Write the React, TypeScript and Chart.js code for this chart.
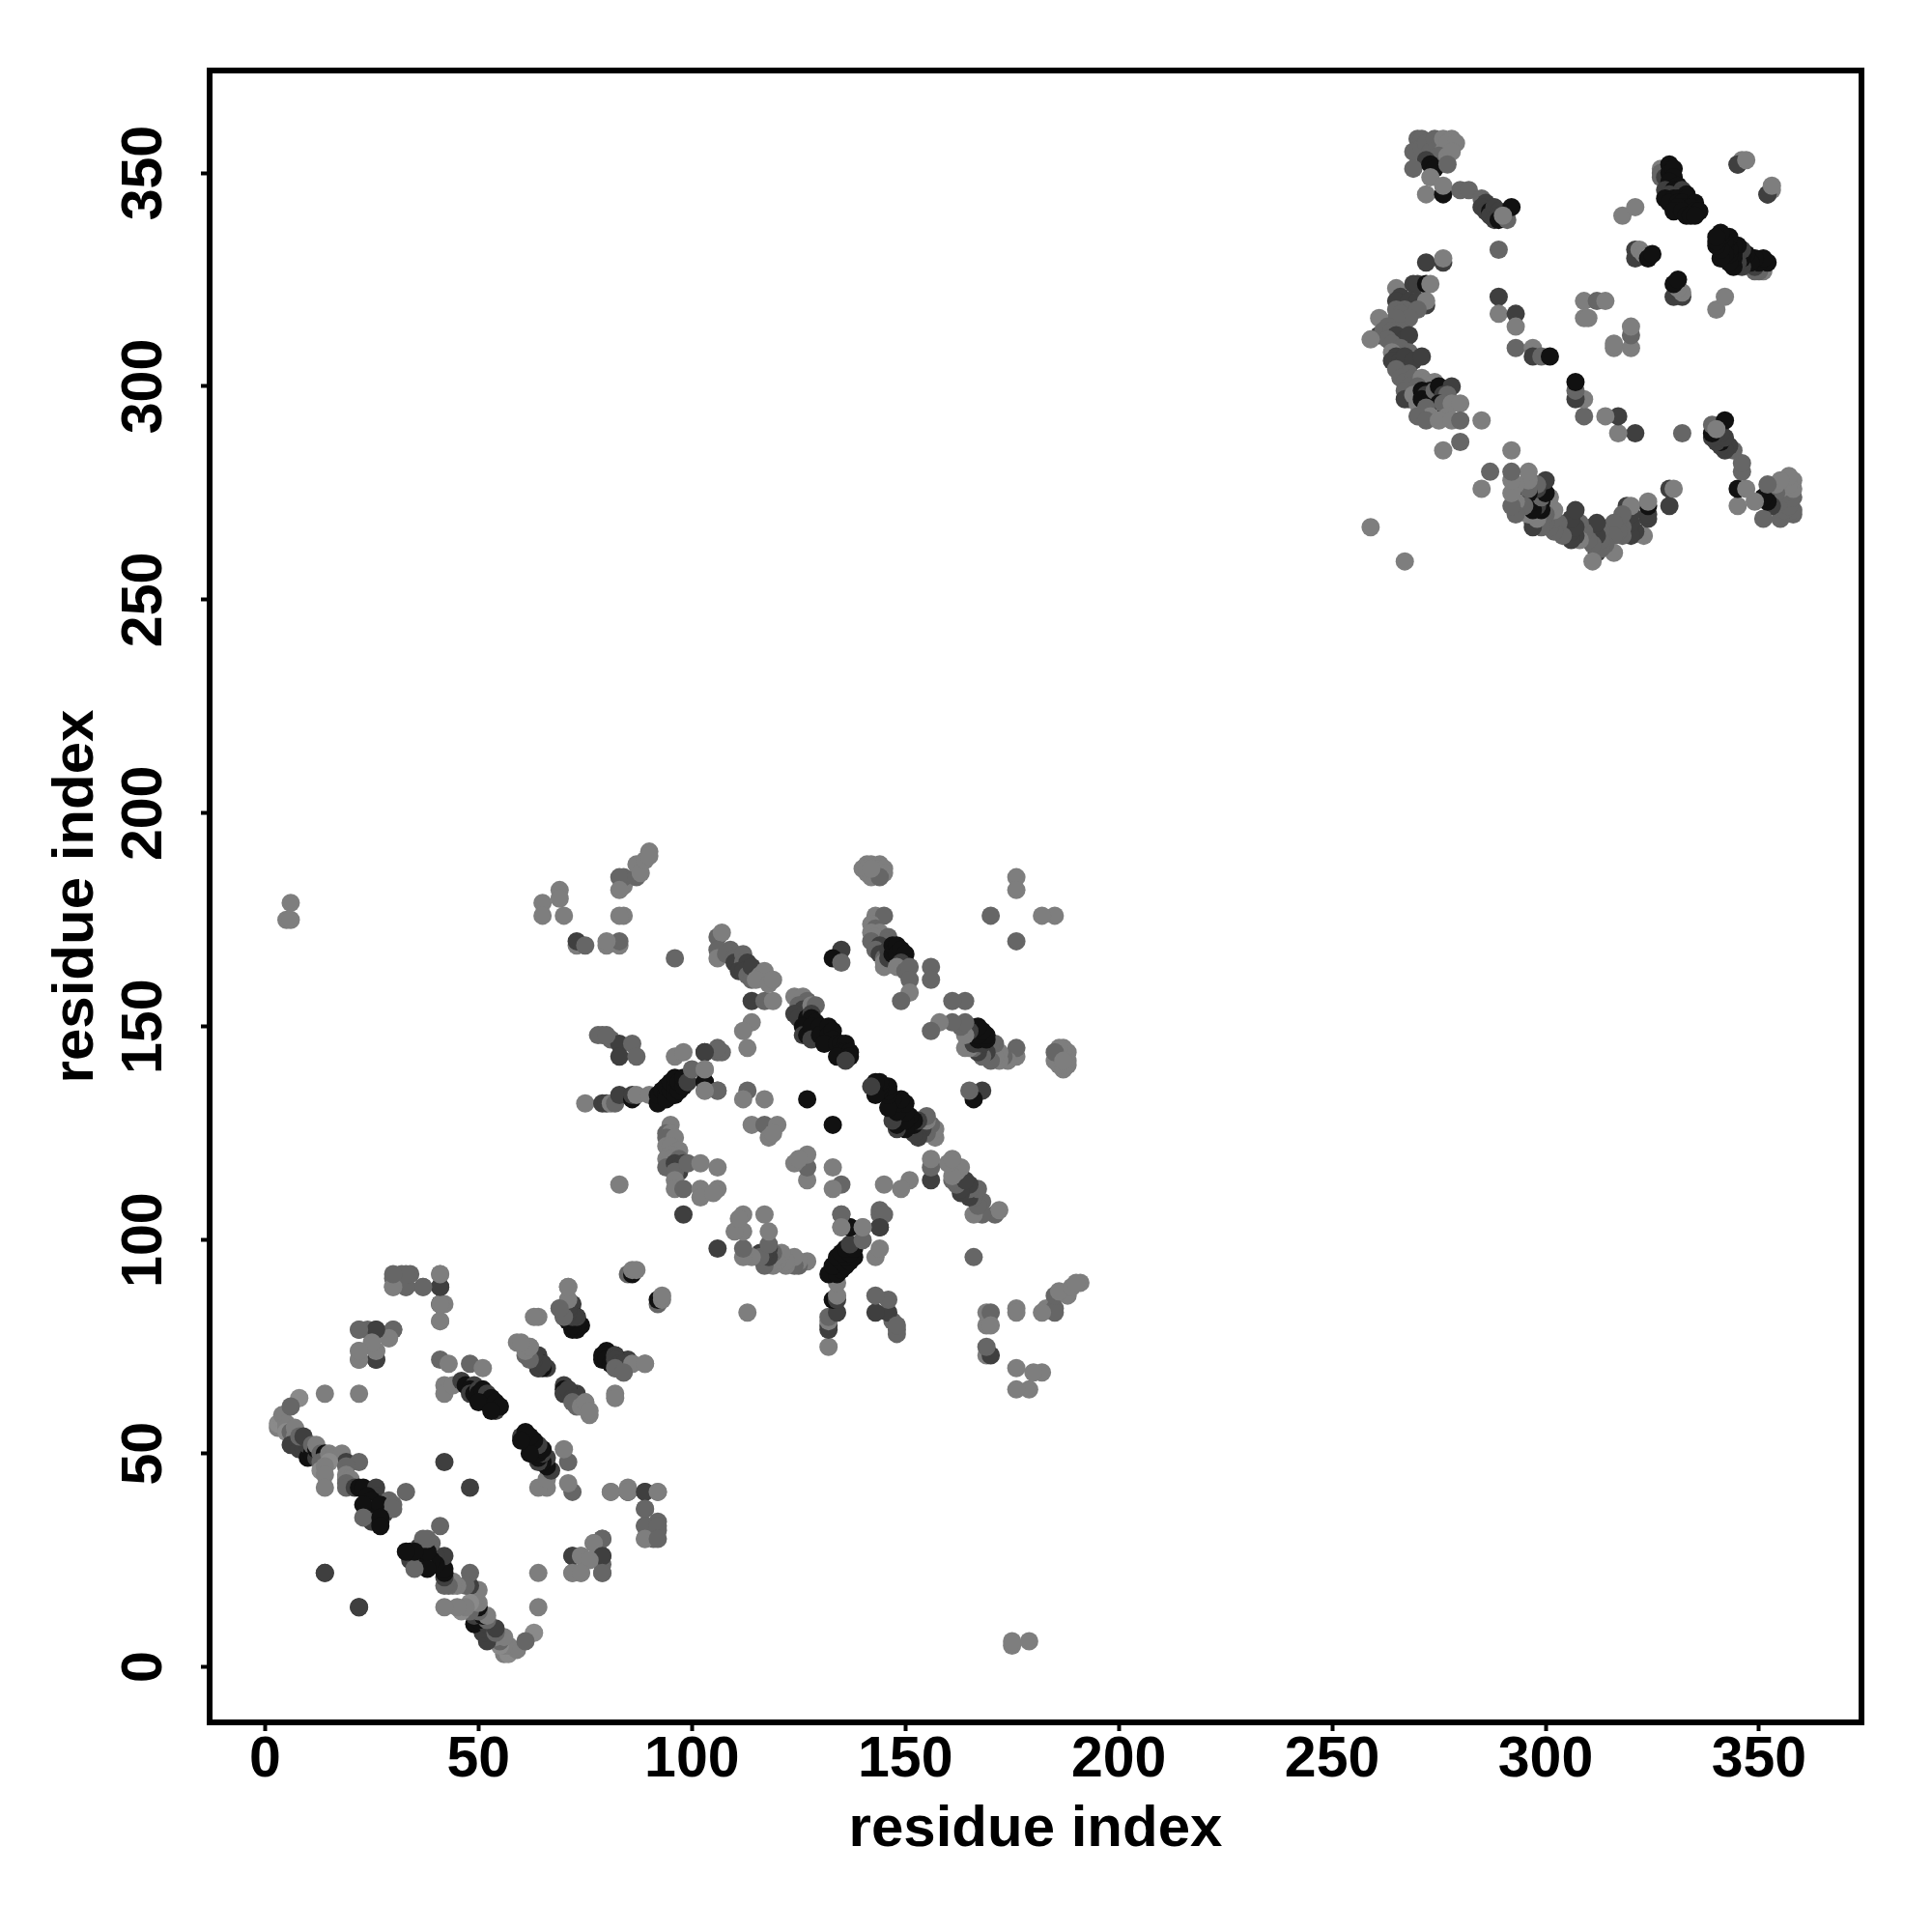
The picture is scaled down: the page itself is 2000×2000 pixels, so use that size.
import React, { useEffect, useRef } from "react";
import { Chart, registerables } from "chart.js";

Chart.register(...registerables);

const tickValues = [0, 50, 100, 150, 200, 250, 300, 350];
const axisTitle = "residue index";

const domainOneContacts = [
  [3,56,1],[3,57,0],[4,58,0],[4,59,1],[5,57,1],[5,56,1],[5,55,0],[6,55,2],[7,54,1],[7,56,1],[8,63,0],[6,61,2],[14,64,1],[22,64,1],
  [6,52,3],[8,51,3],[8,53,3],[9,51,3],[10,49,4],[10,52,3],[11,50,4],[12,49,3],[8,54,2],[9,54,3],[11,52,2],[12,51,4],[12,52,1],[13,50,2],[14,50,4],[13,48,2],[15,50,1],[16,49,1],[18,50,1],[19,48,3],[22,48,2],[15,48,0],[13,46,0],[14,47,1],[14,45,1],[14,42,1],[19,47,2],[19,45,1],[19,44,1],[20,44,1],
  [19,43,2],[19,42,2],[21,42,3],[22,42,4],[23,42,4],[26,42,3],[26,40,3],[24,40,4],[25,39,4],[24,37,3],[26,36,4],[25,34,3],[27,34,4],[28,36,3],[29,39,2],[33,41,2],[23,38,4],[27,38,4],[30,38,2],[30,37,2],[23,35,2],[27,35,4],[27,33,4],[14,22,3],[22,14,3],
  [30,91,2],[32,92,2],[30,89,1],[33,89,2],[37,89,2],[41,92,1],[41,89,3],[41,85,4],[42,85,1],[41,81,1],
  [22,79,2],[24,79,2],[26,79,3],[30,79,2],[29,77,1],[26,74,1],[22,74,1],[22,72,2],[26,72,3],
  [41,72,2],[43,71,1],[48,71,2],[51,70,1],[42,66,1],[42,64,1],[44,66,1],[46,67,3],[47,66,4],[49,66,3],[48,65,4],[48,64,3],[49,64,4],[50,65,3],[50,64,4],[51,65,4],[52,64,3],[52,62,4],[53,63,4],[50,62,4],[54,62,4],[54,60,3],[55,61,4],[53,60,4],
  [42,48,3],[64,82,1],[71,89,1],[71,86,1],[69,84,1],[72,85,3],[70,83,3],[72,83,3],[70,82,3],[73,82,4],[71,81,4],[72,81,4],[73,80,4],[74,80,4],[72,79,4],
  [85,92,2],[86,92,4],[86,93,1],[87,93,1],[59,76,1],[62,75,1],[61,73,2],[62,73,3],[64,73,3],[63,72,3],[64,71,4],[65,71,4],[66,70,3],[64,70,4],
  [79,73,4],[80,73,4],[80,72,4],[81,71,4],[82,73,3],[82,72,3],[83,71,3],[83,70,3],[84,71,3],[86,71,1],[89,71,1],[82,70,2],[84,69,2],[82,63,1],
  [71,64,4],[70,65,4],[70,64,3],[71,65,3],[72,63,3],[73,63,3],[72,62,2],[74,61,1],[75,62,1],[76,60,1],
  [81,41,1],[85,41,1],[89,41,3],[92,41,1],[89,37,2],[89,33,2],[92,34,2],[92,33,2],[89,30,1],[92,30,2],
  [79,30,2],[77,29,1],[79,26,3],[72,26,3],[74,26,1],[76,25,1],[72,22,1],[74,22,1],[79,22,2],
];

const domainTwoContacts = [
  [79,148,2],[81,147,2],[83,146,3],[86,146,2],[83,143,3],[87,143,2],[78,148,2],[80,148,2],
  [75,132,1],[79,132,3],[80,132,3],[81,132,1],[82,132,2],[83,134,3],[86,133,4],[86,134,3],[87,134,1],[90,134,1],
  [92,132,4],[92,134,4],[93,135,4],[94,134,4],[94,133,4],[94,136,4],[95,135,4],[95,137,4],[96,134,4],[96,136,4],[96,138,4],[97,135,4],[97,137,4],[98,136,4],[98,138,4],[99,137,3],[100,140,2],[103,144,4],[103,140,1],[103,137,4],[106,144,2],[107,144,2],[106,135,2],[103,135,1],[96,143,1],[98,144,1],
  [95,127,1],[94,125,2],[95,125,1],[94,124,2],[96,124,1],[94,122,1],[95,122,1],[97,121,1],[95,120,1],[94,119,1],[95,119,1],[97,119,2],[94,117,2],[96,118,3],[98,118,3],[97,117,3],[97,116,3],[96,116,2],[99,118,2],[96,114,1],[102,118,1],[106,117,1],[96,112,1],[98,112,2],[102,112,1],[102,110,1],[106,112,1],[105,111,1],[98,106,3],[83,113,1],
  [106,171,2],[107,172,1],[106,168,2],[106,166,1],[109,168,2],[108,167,2],[110,166,2],[110,165,3],[112,167,2],[112,165,2],[113,165,3],[111,163,3],[112,163,3],[113,162,2],[114,161,2],[114,164,3],[116,162,1],[117,163,1],[115,161,1],[118,160,1],[119,161,1],[114,156,3],[117,156,2],[119,156,1],
  [124,157,1],[126,157,1],[127,156,2],[125,155,2],[126,154,3],[124,153,3],[125,152,3],[128,155,1],[129,155,2],[127,152,4],[128,153,3],[128,152,4],[129,151,4],[126,150,4],[126,148,3],[127,148,4],[128,150,4],[128,147,3],[130,150,4],[130,148,4],[132,150,4],[132,148,4],[133,149,4],[133,147,4],[131,146,4],[134,146,4],[135,146,4],[136,146,4],[135,144,4],[136,144,4],[137,144,4],[134,143,4],[137,143,4],[136,142,3],
  [114,151,1],[112,149,1],[113,145,1],[135,168,3],[133,166,4],[135,165,2],[96,166,2],
  [113,135,2],[112,133,1],[117,133,1],[127,133,4],[114,127,1],[117,127,2],[120,127,1],[118,124,1],[119,125,1],[145,106,2],[144,103,3],[137,103,4],[140,103,1],[135,106,2],[135,103,1],
  [143,176,1],[145,176,2],[142,174,1],[143,173,2],[142,172,1],[144,172,1],[143,171,1],[146,171,2],[142,170,2],[146,170,2],[144,169,3],[143,168,2],[144,167,3],[145,166,2],[146,168,3],[145,165,1],[145,164,1],[146,166,3],[147,167,4],[147,169,4],[148,169,4],[148,167,4],[149,168,4],[150,167,4],[150,165,4],[149,165,3],[148,164,1],[150,163,2],[151,164,2],[156,164,2],[156,161,2],[151,161,2],[151,158,1],[149,156,2],
  [141,188,1],[142,188,1],[144,188,1],[140,187,1],[144,187,1],[145,187,1],[141,186,1],[143,186,1],[145,186,1],[142,185,1],[144,185,2],[141,187,1],[142,187,1],[176,185,1],[176,182,1],[170,176,2],
];

const interDomainContacts = [
  [5,175,1],[6,175,1],[6,179,1],
  [65,179,1],[65,176,1],[69,182,1],[69,180,1],[70,176,1],[73,169,1],[73,170,3],[75,169,2],[80,169,1],[83,169,1],[83,170,2],[80,170,1],
  [84,176,1],[84,183,1],[84,185,2],[83,185,2],[83,182,1],[83,176,1],[87,185,2],[87,188,1],[88,186,1],[89,189,1],[90,191,1],[90,190,1],
];

const domainThreeContacts = [
  [259,267,1],[270,358,2],[271,358,2],[269,355,2],[271,356,2],[272,357,2],[273,355,2],[274,358,2],[275,356,2],[276,358,1],[278,358,1],[276,355,1],[277,357,1],[279,357,1],[275,354,2],[277,354,1],[278,355,1],[272,353,3],[269,351,2],[273,352,4],[274,351,4],[277,352,2],[273,349,1],[272,345,1],[276,345,4],[276,347,1],
  [280,346,2],[282,346,2],[285,344,2],[286,343,3],[285,342,3],[286,341,3],[287,341,4],[287,340,3],[288,342,3],[288,339,3],[289,341,3],[289,340,3],[289,339,4],[291,339,2],[292,342,4],[290,340,1],[272,329,3],[276,329,3],[276,330,1],[289,332,2],
  [265,323,1],[269,324,3],[270,324,3],[272,324,4],[273,324,1],[266,321,3],[265,320,3],[268,320,3],[270,320,3],[272,319,3],[272,320,1],[267,318,2],[270,318,2],[265,318,2],[266,317,2],[268,316,2],[265,316,2],[261,316,1],[263,314,2],[266,313,2],[261,312,3],[262,313,2],[264,313,2],[265,312,3],[263,311,2],[267,311,3],[268,312,3],[259,311,1],[264,310,2],[266,309,2],
  [264,308,1],[268,308,2],[265,307,3],[264,306,3],[266,306,3],[267,307,3],[269,306,3],[271,307,3],[265,304,2],[268,303,2],[266,302,2],[267,301,2],[269,302,2],[268,300,2],[267,299,2],[268,297,2],[267,297,3],
  [271,302,1],[272,301,1],[270,300,2],[269,298,1],[270,296,1],[274,301,1],[271,299,4],[273,299,4],[272,298,3],[271,297,4],[273,297,4],[274,297,4],[274,299,2],[275,300,4],[278,300,3],[276,298,3],[277,298,2],[275,296,4],[276,296,2],[278,296,1],[280,296,1],[272,295,2],[273,293,1],[277,293,1],[270,293,2],[272,292,2],[275,292,1],[278,292,1],[280,292,2],[285,292,1],[280,287,2],[276,285,1],
  [289,321,3],[289,317,1],[293,317,3],[293,314,1],[293,309,2],[297,309,1],[297,307,3],[299,307,2],[301,307,4],
  [309,320,1],[312,320,2],[314,320,1],[309,316,1],[310,316,1],
  [318,340,1],[321,342,1],[321,332,3],[321,330,3],[322,332,1],[323,331,1],[324,330,4],[325,331,4],
  [327,351,1],[327,350,2],[327,349,2],[328,349,3],[329,352,4],[329,350,4],[330,351,4],[330,349,4],[329,348,4],[328,346,3],[331,347,4],[330,346,4],[331,346,4],[332,346,3],[329,345,3],[333,345,4],[328,344,4],[330,344,4],[331,344,4],[333,344,4],[329,343,4],[331,343,4],[332,343,4],[335,343,4],[333,342,4],[334,342,4],[331,342,4],[330,341,4],[332,341,4],[335,341,4],[336,341,4],[333,340,4],[334,340,4],[335,340,4],
  [345,352,3],[346,353,1],[352,345,3],[353,347,1],
];

const levelGreys = ["#8a8a8a", "#7e7e7e", "#666666", "#3f3f3f", "#111111"];

const contacts = [...domainOneContacts, ...domainTwoContacts, ...interDomainContacts, ...domainThreeContacts];
// A contact map is symmetric: each pair (i, j) appears at (j, i) as well, same shade.
const symmetric = contacts.flatMap(([i, j, l]) => [[i, j, l], [j, i, l]]);

const frame = {
  id: "frame",
  afterDatasetsDraw(chart: any) {
    const { ctx, chartArea: a } = chart;
    ctx.save();
    ctx.strokeStyle = "#000";
    ctx.lineWidth = 6;
    ctx.strokeRect(a.left, a.top, a.right - a.left, a.bottom - a.top);
    ctx.restore();
  },
};

export default function App() {
  const ref = useRef<HTMLCanvasElement>(null);
  useEffect(() => {
    const font = { family: "'Liberation Sans'", size: 59, weight: "bold" as const };
    const titleFont = { family: "'Liberation Sans'", size: 60, weight: "bold" as const };
    const common = {
      type: "linear" as const,
      min: -13,
      max: 374,
      grid: { drawOnChartArea: false, drawTicks: true, tickLength: 9, tickWidth: 4, tickColor: "#000" },
      border: { display: false },
    };
    const chart = new Chart(ref.current!, {
      type: "scatter",
      data: {
        datasets: [
          {
            data: symmetric.map(([x, y]) => ({ x, y })),
            backgroundColor: symmetric.map(([, , l]) => levelGreys[l]),
            pointRadius: 9.5,
            pointBorderWidth: 0,
          },
        ],
      },
      options: {
        animation: false,
        responsive: false,
        layout: { padding: { top: 73, right: 73, left: 0, bottom: 0 } },
        plugins: { legend: { display: false }, tooltip: { enabled: false } },
        scales: {
          x: {
            ...common,
            afterFit: (s: any) => { s.height = 217; },
            afterBuildTicks: (s: any) => { s.ticks = tickValues.map((value) => ({ value })); },
            ticks: { color: "#000", font, maxRotation: 0, minRotation: 0, autoSkip: false, includeBounds: false, padding: -5 },
            title: { display: true, text: axisTitle, color: "#000", font: titleFont, padding: { top: 0, bottom: 70 } },
          },
          y: {
            ...common,
            afterFit: (s: any) => { s.width = 217; },
            afterBuildTicks: (s: any) => { s.ticks = tickValues.map((value) => ({ value })); },
            ticks: { color: "#000", font, minRotation: 90, maxRotation: 90, crossAlign: "center", autoSkip: false, includeBounds: false, padding: 8 },
            title: { display: true, text: axisTitle, color: "#000", font: titleFont, padding: { top: 43, bottom: 0 } },
          },
        },
      },
      plugins: [frame],
    });
    return () => chart.destroy();
  }, []);
  return (
    <div style={{ position: "absolute", left: 0, top: 0, width: 2000, height: 2000, background: "#fff" }}>
      <canvas ref={ref} width={2000} height={2000} style={{ display: "block" }} />
    </div>
  );
}
